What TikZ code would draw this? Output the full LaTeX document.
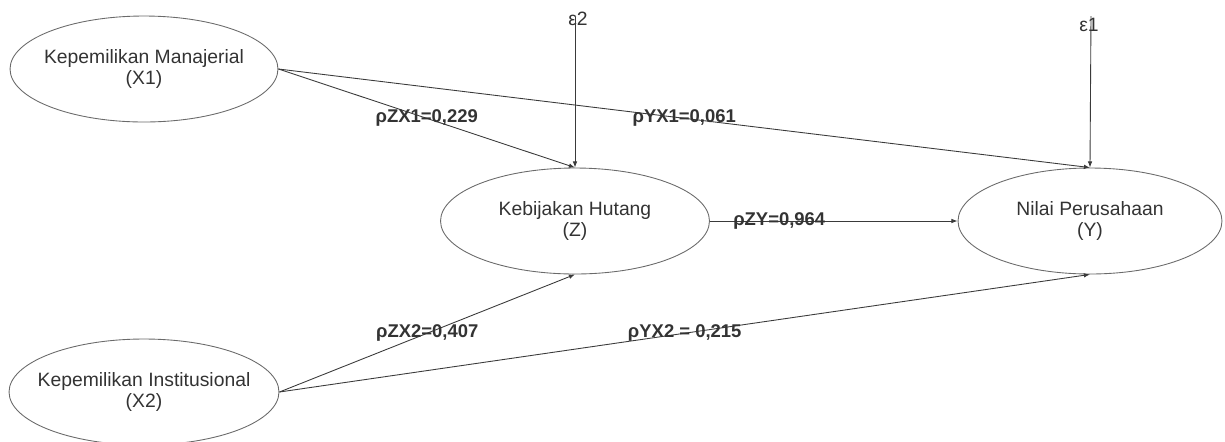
\documentclass[tikz,border=0pt]{standalone}
\usepackage{fontspec}
\setmainfont{Liberation Sans}
\usetikzlibrary{shapes.geometric,arrows.meta,positioning}
\tikzset{>={Latex[length=3.5pt,width=2.6pt]}}
\definecolor{linegray}{HTML}{3A3A3A}
\definecolor{rimgray}{HTML}{6A6A6A}
\definecolor{textgray}{HTML}{333333}

\begin{document}
\begin{tikzpicture}[x=0.02cm, y=-0.02cm,
    latent/.style={ellipse, draw=rimgray, line width=0.5pt, inner xsep=-7pt, inner ysep=0pt,
      minimum height=2.12cm, align=center, text=textgray, font=\fontsize{11}{11.5}\selectfont},
    link/.style={->, draw=linegray, line width=0.5pt},
    coef/.style={inner sep=0pt, text=textgray, font=\fontsize{10.5}{10.5}\selectfont\bfseries},
    err/.style={inner sep=0pt, text=textgray, font=\fontsize{11}{11}\selectfont}]
  % --- Canvas ---
  \useasboundingbox (0,0) rectangle (1225,441);

  % --- 1. Variables ---
  \node[latent, minimum width=5.36cm] (x1) at (144,69)  {Kepemilikan Manajerial\\(X1)};
  \node[latent, minimum width=5.40cm] (x2) at (144,392) {Kepemilikan Institusional\\(X2)};
  \node[latent, minimum width=5.38cm] (z)  at (575,221) {Kebijakan Hutang\\(Z)};
  \node[latent, minimum width=5.28cm] (y)  at (1090,221) {Nilai Perusahaan\\(Y)};

  % --- 2. Error terms ---
  \node[err] (eps2) at (578,19) {ε2};
  \coordinate (e2) at (575,17);
  \node[err] (eps1) at (1089,25) {ε1};
  \coordinate (e1) at (1091,16);

  % --- 3. Paths with coefficients ---
  \draw[link] (x1.east) -- node[coef] {ρZX1=0,229} (z.north);
  \draw[link] (x1.east) -- node[coef] {ρYX1=0,061} (y.north);
  \draw[link] (z.east) -- node[coef, pos=0.28] {ρZY=0,964} (y.west);
  \draw[link] (x2.east) -- node[coef] {ρZX2=0,407} (z.south);
  \draw[link] (x2.east) -- node[coef] {ρYX2 = 0,215} (y.south);

  \draw[link] (e2) -- (z.north);
  \draw[link] (e1) -- (y.north);
\end{tikzpicture}
\end{document}
